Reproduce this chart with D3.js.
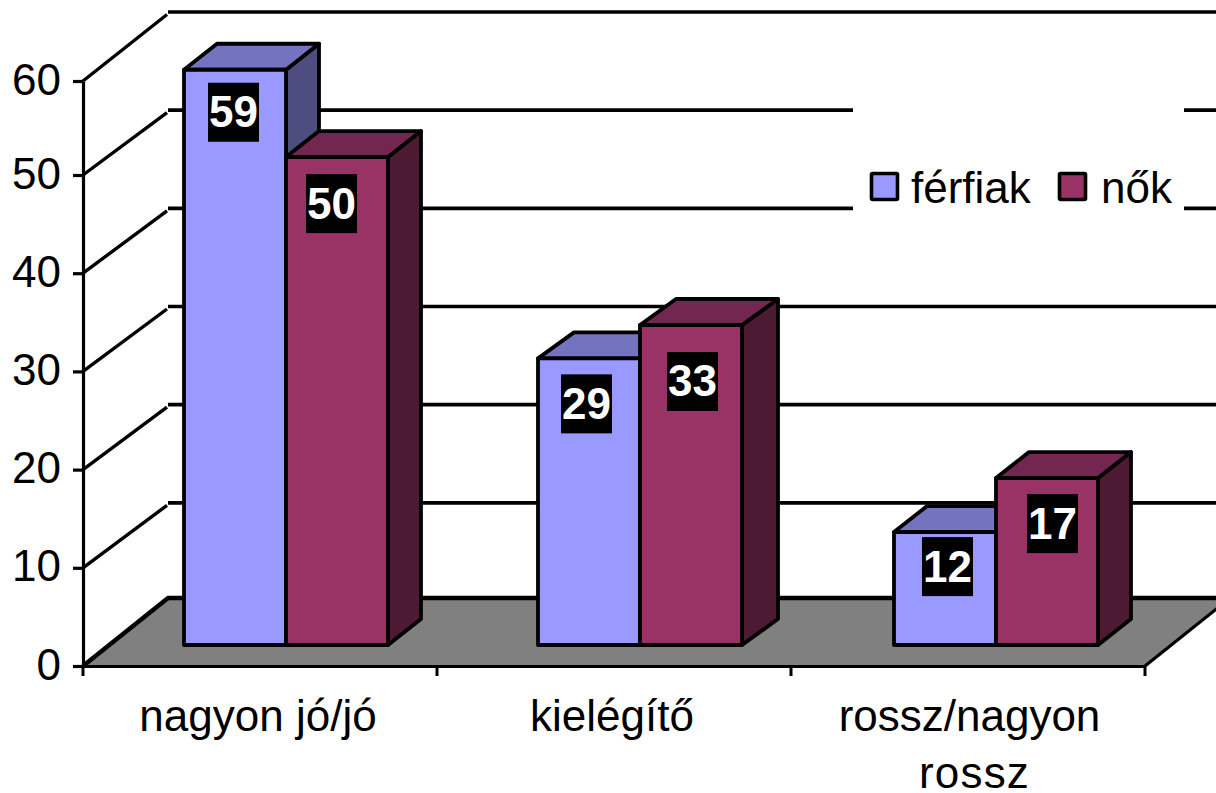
<!DOCTYPE html>
<html>
<head>
<meta charset="utf-8">
<style>
html,body{margin:0;padding:0;background:#fff;overflow:hidden}
svg{display:block}
text{font-family:"Liberation Sans",Arial,sans-serif;fill:#000}
</style>
<script src="https://cdn.jsdelivr.net/npm/d3@7/dist/d3.min.js"></script>
</head>
<body>
<svg id="c" width="1216" height="793"></svg>
<script>
const categories = ["nagyon jó/jó", "kielégítő", "rossz/nagyon rossz"];
const seriesNames = ["férfiak", "nők"];
const ferfiak = [58.6, 29.2, 11.5];
const nok = [49.7, 32.6, 17];
const yTicks = [0, 10, 20, 30, 40, 50, 60];

const svg = d3.select("#c");
const colors = {
  "férfiak": {front:"#9999FF", top:"#7373BF", side:"#4D4D80"},
  "nők": {front:"#993366", top:"#732650", side:"#4D1A33"}
};

// layout
const x = d3.scaleBand().domain(categories).range([83, 1145]);
const yFront = d3.scaleLinear().domain([0, 50, 60]).range([666, 175, 81]);
const yBack = d3.scaleLinear().domain([0, 60]).range([601, 12]);
const yBar = d3.scaleLinear().domain([0, 60]).range([645, 56]);
const wallLeft = 168, floorDx = 85, floorBack = 598;
const barW = 102;
const groupLeft = d3.scaleOrdinal().domain(categories).range([184, 538, 894]);
const depthX = d3.scaleOrdinal().domain(categories).range([33, 36, 33]);
const depthY = 26;
const labelNudgeX = {"férfiak":[-1.5,-2.5,2.5], "nők":[-5.5,1.5,5.5]};
const labelBoxTop = {"férfiak":[13,16,5], "nők":[17,27,16]};

// back wall gridlines and side wall diagonals
svg.append("g").selectAll("line").data(yTicks.filter(d => d > 0)).join("line")
  .attr("x1", wallLeft).attr("x2", 1216)
  .attr("y1", d => yBack(d)).attr("y2", d => yBack(d))
  .attr("stroke", "#000").attr("stroke-width", 3.6);
svg.append("g").selectAll("line").data(yTicks.filter(d => d > 0)).join("line")
  .attr("x1", 83).attr("x2", wallLeft - 1)
  .attr("y1", d => yFront(d)).attr("y2", d => yBack(d) + 2.5)
  .attr("stroke", "#000").attr("stroke-width", 3.4);

// floor
const floorRightX = 1145 + floorDx;
svg.append("path")
  .attr("d", d3.line()([[83,yFront(0)],[wallLeft,floorBack],[floorRightX,floorBack],[1145,yFront(0)]]))
  .attr("fill", "#808080");
svg.append("line").attr("x1",83).attr("y1",yFront(0)).attr("x2",wallLeft).attr("y2",floorBack)
  .attr("stroke","#000").attr("stroke-width",4.4);
svg.append("line").attr("x1",wallLeft-1).attr("y1",floorBack).attr("x2",1216).attr("y2",floorBack)
  .attr("stroke","#000").attr("stroke-width",4.4);
svg.append("line").attr("x1",1145).attr("y1",yFront(0)).attr("x2",floorRightX).attr("y2",floorBack)
  .attr("stroke","#000").attr("stroke-width",3.2);

// axes
const gy = svg.append("g").attr("transform","translate(83,0)")
  .call(d3.axisLeft(yFront).tickValues(yTicks).tickSize(10).tickPadding(0).tickSizeOuter(0));
gy.select(".domain").attr("stroke","#000").attr("stroke-width",3.2);
gy.selectAll(".tick line").attr("stroke","#000").attr("stroke-width",3.2);
gy.selectAll(".tick text").attr("x",-22).attr("dy",null).attr("y",13)
  .style("font-size","44px").style("font-family",'"Liberation Sans"').attr("text-anchor","end");

const gx = svg.append("g").attr("transform",`translate(0,${yFront(0)})`)
  .call(d3.axisBottom(x).tickValues([]).tickSizeOuter(0));
gx.select(".domain").attr("stroke","#000").attr("stroke-width",3.2);
svg.append("g").selectAll("line").data(categories.concat([null])).join("line")
  .attr("x1", d => d === null ? x.range()[1] : x(d))
  .attr("x2", d => d === null ? x.range()[1] : x(d))
  .attr("y1", yFront(0)).attr("y2", yFront(0) + 10)
  .attr("stroke","#000").attr("stroke-width",3);

// bars
const rows = [];
categories.forEach((c,i) => {
  rows.push({c,i,s:seriesNames[0],k:0,v:ferfiak[i]});
  rows.push({c,i,s:seriesNames[1],k:1,v:nok[i]});
});
const line = d3.line();
const bars = svg.append("g").selectAll("g").data(rows).join("g")
  .attr("stroke","#000").attr("stroke-width",3.8).attr("stroke-linejoin","round");
bars.append("path").attr("fill", d => colors[d.s].side).attr("d", d => {
  const l = groupLeft(d.c) + d.k*barW, r = l + barW, t = yBar(d.v), b = yBar(0), dx = depthX(d.c);
  return line([[r,t],[r+dx,t-depthY],[r+dx,b-depthY],[r,b]]) + "Z";
});
bars.append("path").attr("fill", d => colors[d.s].top).attr("d", d => {
  const l = groupLeft(d.c) + d.k*barW, r = l + barW, t = yBar(d.v), dx = depthX(d.c);
  return line([[l,t],[l+dx,t-depthY],[r+dx,t-depthY],[r,t]]) + "Z";
});
bars.append("rect").attr("fill", d => colors[d.s].front)
  .attr("x", d => groupLeft(d.c) + d.k*barW).attr("width", barW)
  .attr("y", d => yBar(d.v)).attr("height", d => yBar(0) - yBar(d.v));

// data labels
const labels = svg.append("g").selectAll("g").data(rows).join("g")
  .attr("transform", d => {
    const cx = groupLeft(d.c) + d.k*barW + barW/2 + labelNudgeX[d.s][d.i];
    return `translate(${cx},${yBar(d.v) + labelBoxTop[d.s][d.i]})`;
  });
labels.append("rect").attr("x",-25.5).attr("width",51).attr("y",0).attr("height",59).attr("fill","#000");
labels.append("text").attr("y",44.5).attr("text-anchor","middle")
  .style("font-size","44px").style("font-weight","bold").style("fill","#fff")
  .text(d => Math.round(d.v));

// category labels
const catLines = c => c === "rossz/nagyon rossz" ? ["rossz/nagyon","rossz"] : [c];
const catLineShift = {"rossz":5};
const catSpacing = {"rossz":1.2};
svg.append("g").selectAll("text").data(categories).join("text")
  .attr("text-anchor","middle").attr("y",731).style("font-size","44px")
  .each(function(c){
    const cx = x(c) + x.bandwidth()/2 + (c === categories[2] ? 1.5 : -2);
    d3.select(this).selectAll("tspan").data(catLines(c)).join("tspan")
      .attr("x",d => cx + (catLineShift[d]||0)).attr("y",(d,i)=>731+i*57)
      .style("letter-spacing",d => (catSpacing[d]||0)+"px")
      .text(d=>d);
  });

// legend
svg.append("rect").attr("x",853).attr("y",95).attr("width",331).attr("height",125).attr("fill","#fff");
const legX = d3.scaleOrdinal().domain(seriesNames).range([870, 1058]);
const legTextX = d3.scaleOrdinal().domain(seriesNames).range([41, 43]);
const leg = svg.append("g").selectAll("g").data(seriesNames).join("g")
  .attr("transform", d => `translate(${legX(d)},0)`);
leg.append("rect").attr("x",1.5).attr("y",173.5).attr("width",26).attr("height",26).attr("rx",1)
  .attr("fill", d => colors[d].front).attr("stroke","#000").attr("stroke-width",3.6);
leg.append("text").attr("x",d => legTextX(d)).attr("y",203).style("font-size","44px").text(d=>d);
</script>
</body>
</html>
